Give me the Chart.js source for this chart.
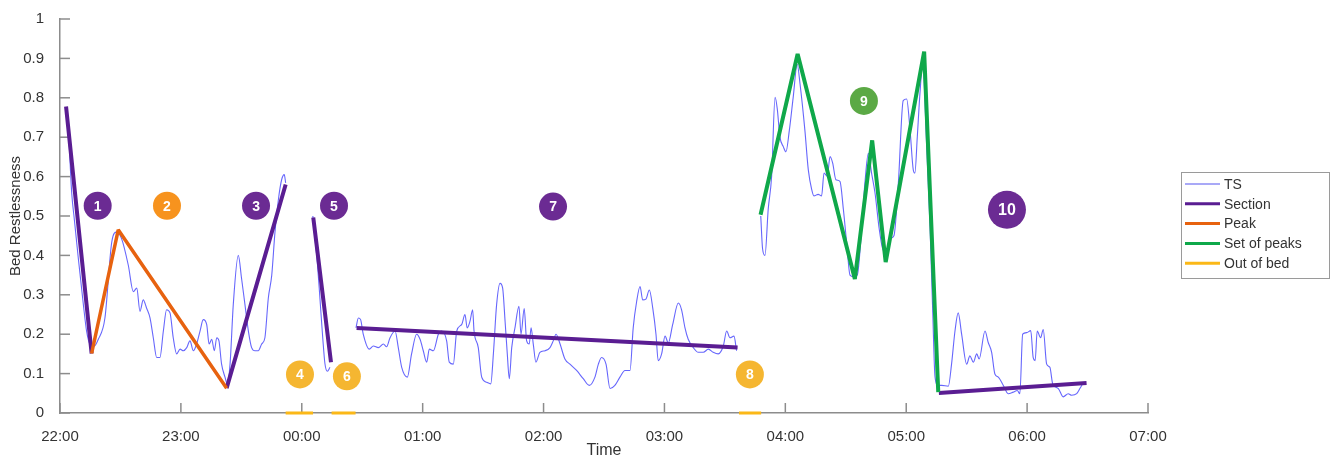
<!DOCTYPE html>
<html>
<head>
<meta charset="utf-8">
<script src="https://cdn.jsdelivr.net/npm/chart.js@4.4.1/dist/chart.umd.min.js"></script>
<style>
  body { margin: 0; background: #fff; }
  #wrap { width: 1342px; height: 461px; }
</style>
</head>
<body>
<div id="wrap"><canvas id="restless" width="1342" height="461"></canvas></div>
<script>
// minutes after 22:00, bed restlessness
const timeLabels = ['22:00', '23:00', '00:00', '01:00', '02:00', '03:00', '04:00', '05:00', '06:00', '07:00']
const yLabels = ['0', '0.1', '0.2', '0.3', '0.4', '0.5', '0.6', '0.7', '0.8', '0.9', '1']

// TS, split by the out-of-bed periods
const ts1 = [[3.0,0.776],[4.1,0.726],[5.8,0.559],[7.1,0.492],[9.1,0.392],[11.6,0.275],[13.2,0.208],[14.9,0.175],
  [17.0,0.17],[19.0,0.187],[22.3,0.241],[25.7,0.434],[28.1,0.459],[30.6,0.442],[33.9,0.375],[36.4,0.308],[38.1,0.317],
  [39.7,0.258],[41.3,0.287],[43.0,0.266],[44.7,0.241],[46.3,0.191],[48.0,0.141],[49.6,0.141],[51.3,0.208],[52.9,0.262],
  [54.6,0.254],[56.2,0.191],[57.9,0.150],[59.6,0.162],[61.2,0.158],[62.9,0.166],[64.5,0.183],[66.2,0.158],[67.8,0.175],
  [69.5,0.208],[71.1,0.237],[72.8,0.225],[74.0,0.175],[75.3,0.187],[76.6,0.158],[77.8,0.191],[78.9,0.183],[80.2,0.124],
  [81.9,0.091],[83.0,0.074],[84.4,0.124],[86.0,0.275],[88.5,0.400],[90.1,0.342],[91.8,0.275],[93.5,0.208],[95.1,0.166],
  [96.8,0.158],[98.4,0.158],[100.1,0.175],[101.7,0.191],[103.4,0.292],[105.1,0.350],[106.7,0.459],[108.4,0.542],
  [110.0,0.592],[111.3,0.605],[112.0,0.584]]
const ts2 = [[125.5,0.50],[126.1,0.467],[127.7,0.383],[129.0,0.292],[130.4,0.191],[131.5,0.125],[132.7,0.106],[134.0,0.116]]
const ts3 = [[146.9,0.216],[148.1,0.241],[149.2,0.237],[150.5,0.200],[153.5,0.162],[155.5,0.170],[158.0,0.166],
  [160.5,0.175],[162.1,0.168],[163.8,0.191],[166.3,0.208],[167.9,0.166],[169.6,0.116],[172.4,0.091],[174.5,0.150],
  [177.0,0.200],[178.7,0.187],[180.3,0.158],[182.0,0.129],[183.3,0.162],[185.3,0.158],[187.8,0.200],[189.4,0.208],
  [191.9,0.183],[193.2,0.129],[195.2,0.124],[196.9,0.208],[199.4,0.225],[201.0,0.250],[202.1,0.216],[203.5,0.233],
  [204.8,0.262],[205.5,0.208],[207.6,0.166],[209.3,0.091],[211.8,0.078],[213.8,0.074],[215.1,0.150],[216.7,0.275],
  [218.4,0.329],[219.7,0.317],[220.9,0.233],[222.0,0.150],[223.0,0.087],[224.2,0.166],[225.8,0.216],[227.8,0.271],
  [228.8,0.200],[230.4,0.265],[231.6,0.183],[232.9,0.175],[233.8,0.216],[234.9,0.175],[236.2,0.129],[238.2,0.154],
  [240.7,0.158],[243.2,0.166],[244.8,0.183],[246.2,0.200],[248.2,0.175],[250.6,0.137],[253.1,0.124],[256.4,0.108],
  [259.7,0.087],[262.7,0.070],[265.5,0.091],[267.2,0.124],[268.8,0.141],[271.0,0.124],[273.0,0.062],[275.4,0.070],
  [277.9,0.091],[280.4,0.108],[282.9,0.108],[284.5,0.216],[286.2,0.283],[287.9,0.321],[289.2,0.287],[290.8,0.289],
  [292.5,0.312],[294.2,0.266],[295.8,0.200],[296.9,0.133],[298.6,0.150],[300.3,0.195],[301.9,0.178],[304.1,0.225],
  [306.9,0.279],[308.5,0.262],[310.2,0.216],[311.8,0.187],[314.3,0.166],[316.8,0.154],[319.3,0.154],[321.8,0.162],
  [324.2,0.154],[326.7,0.150],[329.2,0.170],[330.9,0.208],[332.5,0.191],[334.5,0.195],[335.8,0.158]]
const ts4 = [[347.8,0.500],[348.7,0.417],[349.9,0.400],[351.5,0.517],[353.2,0.601],[354.9,0.801],[356.0,0.772],
  [357.3,0.701],[359.0,0.676],[360.3,0.663],[362.0,0.718],[363.9,0.801],[365.9,0.885],[367.3,0.835],[369.7,0.718],
  [371.4,0.617],[373.1,0.567],[374.2,0.551],[376.3,0.555],[378.0,0.551],[379.2,0.609],[380.8,0.601],[382.2,0.651],
  [383.5,0.634],[385.1,0.592],[387.1,0.588],[388.8,0.517],[390.4,0.434],[392.1,0.350],[393.7,0.346],[395.7,0.350],
  [397.4,0.434],[399.5,0.584],[401.2,0.659],[402.8,0.609],[404.5,0.559],[406.6,0.467],[408.3,0.417],[409.9,0.409],
  [411.9,0.442],[413.9,0.450],[416.1,0.584],[418.5,0.793],[420.2,0.797],[421.9,0.718],[423.5,0.617],[424.3,0.609],
  [425.5,0.701],[426.8,0.810],[428.2,0.885],[430.1,0.684],[431.8,0.475],[433.1,0.266],[434.3,0.091],[435.9,0.070],
  [437.6,0.070],[440.9,0.068],[442.5,0.124],[444.2,0.208],[445.8,0.254],[447.5,0.200],[450.0,0.124],[451.6,0.145],
  [453.3,0.129],[455.0,0.150],[456.2,0.137],[459.1,0.208],[460.7,0.179],[462.4,0.154],[464.0,0.099],[465.7,0.091],
  [468.2,0.070],[470.6,0.049],[473.1,0.053],[475.1,0.057],[476.4,0.049],[477.8,0.200],[479.8,0.204],[481.8,0.209],
  [483.0,0.141],[484.0,0.133],[485.0,0.208],[486.7,0.191],[488.0,0.212],[489.7,0.124],[491.3,0.116],[492.7,0.074],
  [495.5,0.062],[497.9,0.041],[500.4,0.049],[502.1,0.045],[504.6,0.049],[506.2,0.062],[507.9,0.078]]

// fitted pieces
const sections = [[[3.0,0.778],[15.7,0.151]], [[82.7,0.063],[112.0,0.580]], [[125.7,0.496],[134.5,0.129]],
  [[147.2,0.216],[336.3,0.166]], [[436.2,0.051],[509.5,0.076]]]
const peak = [[15.7,0.151],[28.9,0.465],[82.7,0.063]]
const peakSet = [[347.7,0.503],[366.1,0.911],[394.5,0.340],[403.1,0.692],[409.8,0.383],[428.9,0.917],[435.9,0.053]]
const outOfBed = [[112.0,125.6],[134.8,146.7],[337.0,348.0]]

// numbered labels
const markerLabels = ['1', '2', '3', '4', '5', '6', '7', '8', '9', '10']
const markerKind = ['section', 'peak', 'section', 'bed', 'section', 'bed', 'section', 'bed', 'set', 'section']
const markerTime = [18.7, 53.1, 97.3, 119.1, 136.0, 142.4, 244.7, 342.4, 399.0, 470.0]
const markerValue = [0.526, 0.526, 0.526, 0.098, 0.526, 0.093, 0.524, 0.098, 0.792, 0.516]

const kindColor = { section: '#6b2b93', peak: '#f7931e', bed: '#f5b631', set: '#5ba945' }
const axisColor = '#8c8c8c'
const textColor = '#333'
const fontFamily = "'Liberation Sans', Arial, Helvetica, sans-serif"

function joinPieces(pieces) {
  let out = []
  pieces.forEach((p, i) => {
    if (i > 0) {
      let prev = pieces[i - 1]
      out.push({ x: (prev[prev.length - 1][0] + p[0][0]) / 2, y: null })
    }
    p.forEach(row => out.push({ x: row[0], y: row[1] }))
  })
  return out
}

const datasets = [
  {
    label: 'TS',
    data: joinPieces([ts1, ts2, ts3, ts4]),
    borderColor: 'rgba(85,85,252,0.9)',
    legendColor: '#a9a9f7',
    legendWidth: 2,
    borderWidth: 1.1,
    tension: 0.35,
    cubicInterpolationMode: 'monotone',
    order: 6
  },
  {
    label: 'Section',
    data: joinPieces(sections),
    borderColor: '#5a1d92',
    borderWidth: 4,
    order: 3
  },
  {
    label: 'Peak',
    data: joinPieces([peak]),
    borderColor: '#e7620f',
    borderWidth: 3.5,
    borderJoinStyle: 'bevel',
    order: 2
  },
  {
    label: 'Set of peaks',
    data: joinPieces([peakSet]),
    borderColor: '#0fa84a',
    borderWidth: 4,
    borderJoinStyle: 'bevel',
    order: 1
  },
  {
    label: 'Out of bed',
    data: joinPieces(outOfBed.map(r => [[r[0], 0], [r[1], 0]])),
    borderColor: '#fbb817',
    borderWidth: 3,
    clip: false,
    order: 4
  },
  {
    label: '',
    isMarker: true,
    data: markerTime.map((t, i) => ({ x: t, y: markerValue[i] })),
    showLine: false,
    pointRadius: markerLabels.map(l => l.length > 1 ? 19 : 14),
    pointHoverRadius: markerLabels.map(l => l.length > 1 ? 19 : 14),
    pointBackgroundColor: markerKind.map(k => kindColor[k]),
    pointBorderWidth: 0,
    clip: false,
    order: 0
  }
]

// ticks drawn inward from the axis lines
const insideTicks = {
  id: 'insideTicks',
  beforeDatasetsDraw(chart) {
    const c = chart.ctx
    const area = chart.chartArea
    c.save()
    c.strokeStyle = axisColor
    c.lineWidth = 1.5
    chart.scales.x.ticks.forEach(t => {
      let px = chart.scales.x.getPixelForValue(t.value)
      c.beginPath(); c.moveTo(px, area.bottom); c.lineTo(px, area.bottom - 10); c.stroke()
    })
    chart.scales.y.ticks.forEach(t => {
      let py = chart.scales.y.getPixelForValue(t.value)
      c.beginPath(); c.moveTo(area.left, py); c.lineTo(area.left + 10, py); c.stroke()
    })
    c.restore()
  }
}

const markerText = {
  id: 'markerText',
  afterDatasetsDraw(chart) {
    const idx = chart.data.datasets.findIndex(d => d.isMarker)
    const meta = chart.getDatasetMeta(idx)
    const c = chart.ctx
    c.save()
    c.fillStyle = '#fff'
    c.textAlign = 'center'
    c.textBaseline = 'middle'
    meta.data.forEach((pt, i) => {
      let big = markerLabels[i].length > 1
      c.font = 'bold ' + (big ? 16 : 14) + 'px ' + fontFamily
      c.fillText(markerLabels[i], pt.x, pt.y + 1)
    })
    c.restore()
  }
}

const sideLegend = {
  id: 'sideLegend',
  afterDraw(chart) {
    const c = chart.ctx
    const left = chart.chartArea.right + 33
    const top = 172
    const items = chart.data.datasets.filter(d => !d.isMarker)
    c.save()
    c.strokeStyle = '#9a9a9a'
    c.lineWidth = 1
    c.strokeRect(left + 0.5, top + 0.5, 148, 106)
    c.font = '14px ' + fontFamily
    c.textBaseline = 'middle'
    c.fillStyle = textColor
    items.forEach((d, i) => {
      let y = top + 12 + i * 19.8
      c.strokeStyle = d.legendColor || d.borderColor
      c.lineWidth = d.legendWidth || 3
      c.beginPath(); c.moveTo(left + 4, y); c.lineTo(left + 39, y); c.stroke()
      c.fillText(d.label, left + 43, y + 1)
    })
    c.restore()
  }
}

Chart.defaults.font.family = fontFamily

new Chart(document.getElementById('restless'), {
  type: 'line',
  data: { datasets: datasets },
  options: {
    responsive: false,
    animation: false,
    events: [],
    layout: { padding: { top: 14, right: 194, left: 0, bottom: 0 } },
    elements: { point: { radius: 0 }, line: { borderCapStyle: 'butt' } },
    plugins: { legend: { display: false }, tooltip: { enabled: false } },
    scales: {
      x: {
        type: 'linear',
        min: 0,
        max: 540,
        grid: { display: false },
        border: { color: axisColor, width: 1.5 },
        ticks: {
          stepSize: 60,
          autoSkip: false,
          maxRotation: 0,
          padding: 7,
          color: textColor,
          font: { size: 15 },
          callback: v => timeLabels[Math.round(v / 60)]
        },
        title: { display: true, text: 'Time', color: textColor, font: { size: 16 }, padding: { top: 0, bottom: 1 } },
        afterFit: s => { s.height = 48 }
      },
      y: {
        min: 0,
        max: 1,
        grid: { display: false },
        border: { color: axisColor, width: 1.5 },
        ticks: {
          stepSize: 0.1,
          padding: 8,
          color: textColor,
          font: { size: 15 },
          callback: v => yLabels[Math.round(v * 10)]
        },
        title: { display: true, text: 'Bed Restlessness', color: textColor, font: { size: 15 }, padding: { top: 7, bottom: 0 } },
        afterFit: s => { s.width = 60 }
      }
    }
  },
  plugins: [insideTicks, markerText, sideLegend]
})
</script>
</body>
</html>
